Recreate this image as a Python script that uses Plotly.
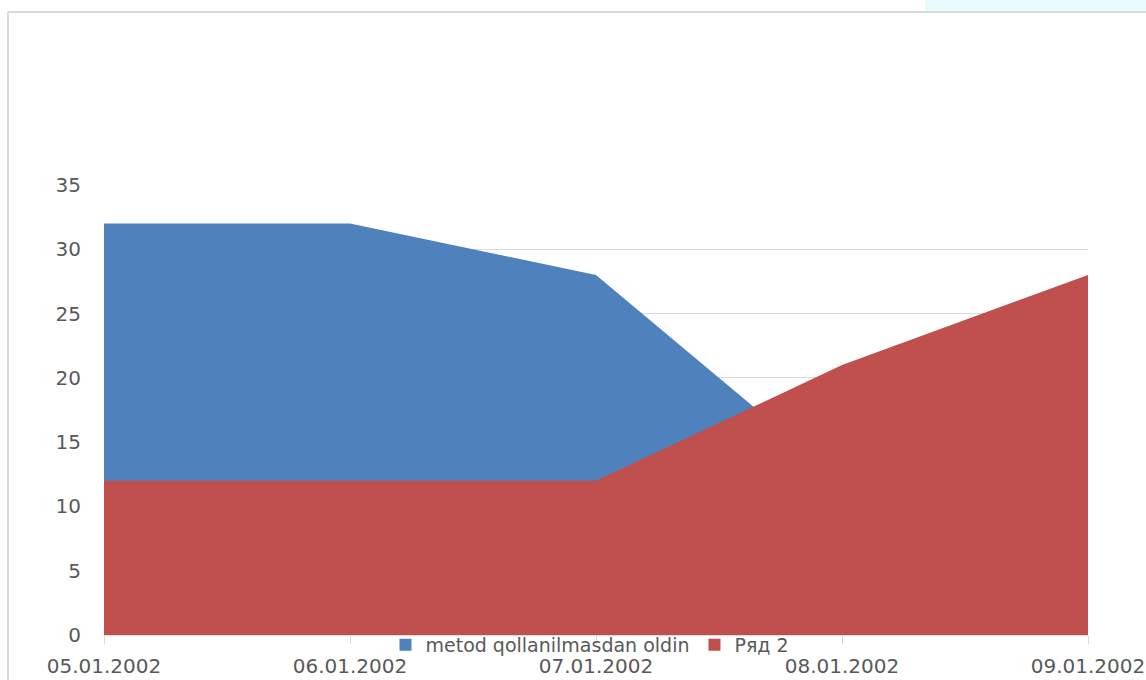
import plotly.graph_objects as go

dates = ["05.01.2002", "06.01.2002", "07.01.2002", "08.01.2002", "09.01.2002"]
series1_name = "metod qollanilmasdan oldin"
series1 = [32, 32, 28, 12, 8]
series2_name = "Ряд 2"
series2 = [12, 12, 12, 21, 28]
y_ticks = [0, 5, 10, 15, 20, 25, 30, 35]

BLUE = "#4F81BD"
RED = "#C0504D"

W, H = 1146, 680
L, R, T, B = 104, 1146 - 1088, 185, 680 - 635
pw, ph = W - L - R, H - T - B

def px(x):
    return (x - L) / pw

def py(y):
    return (H - B - y) / ph

FONT = "DejaVu Sans"
GREY = "#595959"
FS = 20

fig = go.Figure()
fig.add_trace(go.Scatter(x=dates, y=series1, name=series1_name, mode="lines",
                         line=dict(width=0, color=BLUE), fill="tozeroy",
                         fillcolor=BLUE, showlegend=False))
fig.add_trace(go.Scatter(x=dates, y=series2, name=series2_name, mode="lines",
                         line=dict(width=0, color=RED), fill="tozeroy",
                         fillcolor=RED, showlegend=False))
# legend entries with square swatches
for name, col in [(series1_name, BLUE), (series2_name, RED)]:
    fig.add_trace(go.Scatter(x=[None], y=[None], name=name, mode="markers",
                             marker=dict(symbol="square", size=12, color=col)))

fig.update_layout(
    width=W, height=H,
    margin=dict(l=L, r=R, t=T, b=B, autoexpand=False),
    paper_bgcolor="white", plot_bgcolor="white",
    font=dict(family=FONT, size=FS, color=GREY),
    showlegend=True,
    legend=dict(orientation="h", x=px(590), xanchor="center", y=py(645), yanchor="middle",
                font=dict(size=19, color=GREY), bgcolor="rgba(0,0,0,0)",
                tracegroupgap=0),
    xaxis=dict(type="category", range=[0, 4], showgrid=False, showline=True,
               linecolor="#D9D9D9", linewidth=1, ticks="outside", ticklen=8,
               tickcolor="#D9D9D9", ticklabelstandoff=5, zeroline=False,
               automargin=False, tickfont=dict(size=FS, color=GREY)),
    yaxis=dict(range=[0, 35], tickvals=y_ticks, showgrid=True, gridcolor="#D9D9D9",
               gridwidth=1, showline=False, zeroline=False, ticks="",
               automargin=False, ticklabelstandoff=22,
               tickfont=dict(size=FS, color=GREY)),
    shapes=[
        dict(type="rect", xref="paper", yref="paper", x0=px(925), x1=px(1160),
             y0=py(11), y1=py(-10), fillcolor="#E8FAFD", line=dict(width=0), layer="below"),
        dict(type="line", xref="paper", yref="paper", x0=px(8), x1=px(1160),
             y0=py(12), y1=py(12), line=dict(color="#D9D9D9", width=2)),
        dict(type="line", xref="paper", yref="paper", x0=px(8), x1=px(8),
             y0=py(12), y1=py(700), line=dict(color="#D9D9D9", width=2)),
    ],
)

fig.write_html("out.html", config={"displayModeBar": False},
               post_script="document.body.style.margin='0';document.body.style.overflow='hidden';")
